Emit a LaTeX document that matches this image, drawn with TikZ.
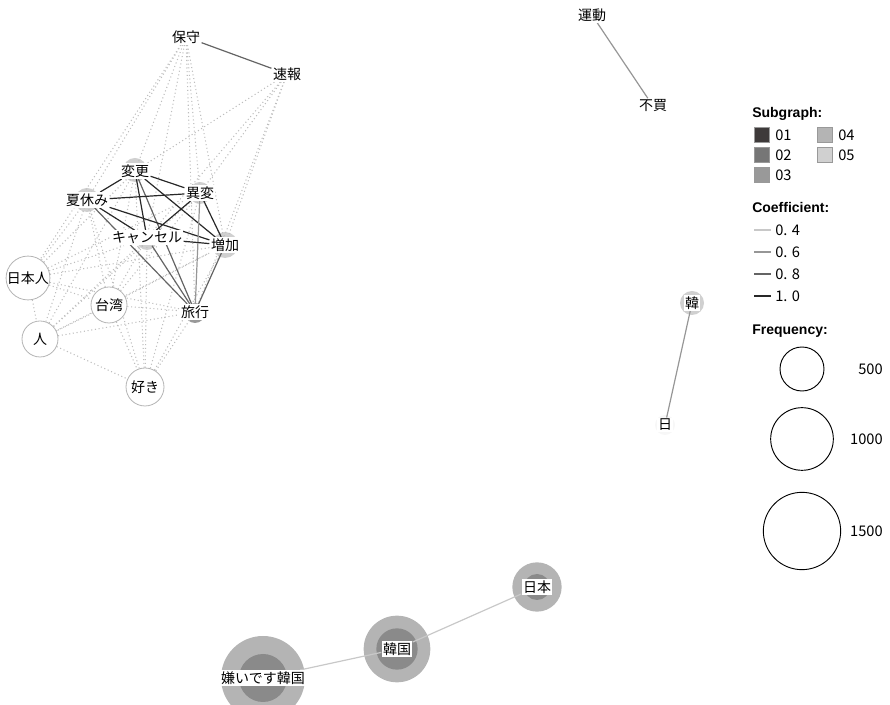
\documentclass[tikz,border=0pt]{standalone}
\usepackage{fontspec}
\setmainfont{Noto Sans CJK JP}
\newfontfamily\legfont{Liberation Sans}
\usepackage{tikz}
\definecolor{sgA}{RGB}{62, 58, 58}
\definecolor{sgB}{RGB}{118, 118, 118}
\definecolor{sgC}{RGB}{153, 153, 153}
\definecolor{sgD}{RGB}{180, 180, 180}
\definecolor{sgE}{RGB}{208, 208, 208}
\definecolor{inner}{RGB}{138, 138, 138}
\definecolor{co4}{RGB}{200, 200, 200}
\definecolor{co6}{RGB}{150, 150, 150}
\definecolor{co8}{RGB}{100, 100, 100}
\definecolor{co10}{RGB}{40, 40, 40}
\definecolor{faint}{RGB}{190, 190, 190}
\newcommand*{\h}{27}
\newcommand*{\fs}{\fontsize{10.5}{12}\selectfont}
\pgfdeclarelayer{circles}
\pgfdeclarelayer{edges}
\pgfsetlayers{circles,edges,main}

\begin{document}
\begin{tikzpicture}[
   x=0.75pt, y=-0.75pt,
   word/.style={rectangle, fill=white, inner sep=1, text=black, font=\fs},
   bubble/.style={circle, draw=sgD, fill=white, line width=0.6, text=black,
                  inner sep=0, minimum size=\h, font=\fs},
   smallcirc/.style={circle, fill=sgE, inner sep=0, minimum size=18},
   outercirc/.style={circle, fill=sgD, inner sep=0},
   innercirc/.style={circle, fill=inner, inner sep=0},
   key/.style={rectangle, draw=sgC, line width=0.6, inner sep=0, minimum size=11},
   keytext/.style={anchor=west, inner sep=0, font=\fontsize{11}{13}\selectfont},
   head/.style={anchor=west, inner sep=0, font=\legfont\bfseries\fontsize{10.5}{12}\selectfont},
   freq/.style={circle, draw=black, line width=0.7, fill=white, inner sep=0}
  ]

  \clip (0, 0) rectangle (890, 705);

  \begin{pgfonlayer}{circles}
    \node (E0) at (135, 170) [smallcirc] {};
    \node (F0) at (200, 193) [smallcirc, minimum size=16.5] {};
    \node (G0) at (87, 200) [smallcirc] {};
    \node (H0) at (147, 240) [smallcirc, minimum size=15] {};
    \node (I0) at (225, 245) [smallcirc, minimum size=19.5] {};
    \node (L0) at (195, 313) [smallcirc, fill=sgC, minimum size=15] {};
    \node (O0) at (692, 303) [smallcirc, minimum size=18] {};
    \node (P0) at (665, 425) [smallcirc, fill=gray!6, minimum size=15] {};

    \node (Q1) at (537, 587) [outercirc, minimum size=37] {};
    \node (Q2) at (537, 587) [innercirc, minimum size=19.5] {};
    \node (R1) at (397, 649) [outercirc, minimum size=50] {};
    \node (R2) at (397, 649) [innercirc, minimum size=31] {};
    \node (S1) at (263, 678) [outercirc, minimum size=63] {};
    \node (S2) at (263, 678) [innercirc, minimum size=36] {};
  \end{pgfonlayer}

  \node (A) at (186, 37) [word] {保守};
  \node (B) at (287, 74) [word] {速報};
  \node (C) at (592, 15) [word] {運動};
  \node (D) at (653, 106) [word] {不買};

  \node (E) at (135, 171) [word] {変更};
  \node (F) at (200, 193) [word] {異変};
  \node (G) at (87, 200) [word] {夏休み};
  \node (H) at (147, 238) [word] {キャンセル};
  \node (I) at (225, 245) [word] {増加};
  \node (L) at (195, 312) [word] {旅行};

  \node (J) at (28, 278) [bubble] {日本人};
  \node (K) at (109, 305) [bubble] {台湾};
  \node (M) at (40, 339) [bubble] {人};
  \node (N) at (145, 387) [bubble, minimum size=28.5] {好き};

  \node (O) at (692, 303) [word] {韓};
  \node (P) at (665, 425) [word] {日};
  \node (Q) at (537, 587) [word] {日本};
  \node (R) at (397, 649) [word] {韓国};
  \node (S) at (263, 678) [word] {嫌いです韓国};

  \begin{pgfonlayer}{edges}
    \foreach \B/\E in {A/G, A/E, A/F, A/H, A/I, A/L, A/J,
                       B/E, B/F, B/H, B/I, B/L,
                       J/E, J/G, J/H, J/F, J/K, J/M, J/L, J/I,
                       K/G, K/E, K/H, K/F, K/I, K/L, K/M, K/N,
                       M/G, M/E, M/H, M/F, M/I, M/L, M/N,
                       N/G, N/E, N/H, N/F, N/I, N/L} {
      \draw[color=faint, dotted, line width=0.8] (\B) -- (\E);
    }
    \foreach \B/\E/\c in {E/G/co10, E/F/co10, E/H/co10, E/I/co10, E/L/co8,
                          G/F/co10, G/H/co10, G/I/co10, G/L/co8,
                          F/H/co10, F/I/co10, F/L/co6,
                          H/I/co10, H/L/co8, I/L/co8,
                          A/B/co8, C/D/co6, O/P/co6, Q/R/co4, R/S/co4} {
      \draw[color=\c, line width=0.9] (\B) -- (\E);
    }
  \end{pgfonlayer}

  % Legend
  \node (sub) at (752, 114) [head] {Subgraph:};
  \foreach \n/\x/\y/\c in {01/762/135/sgA, 02/762/155/sgB, 03/762/175/sgC,
                           04/825/135/sgD, 05/825/155/sgE} {
    \node (k\n) at (\x, \y) [key, fill=\c] {};
    \node at (\x + 13, \y) [keytext] {\n};
  }

  \node (coef) at (752, 208) [head] {Coefficient:};
  \foreach \v/\y/\c in {0. 4/230/co4, 0. 6/252/co6, 0. 8/274/co8, 1. 0/296/co10} {
    \draw[color=\c, line width=1] (754, \y) -- (771, \y);
    \node at (775, \y) [keytext] {\v};
  }

  \node (freq) at (752, 331) [head] {Frequency:};
  \node (f1) at (802, 369) [freq, minimum size=33] {};
  \node (f2) at (802, 439) [freq, minimum size=47] {};
  \node (f3) at (802, 531) [freq, minimum size=58] {};
  \node at (883, 369) [keytext, anchor=east] {500};
  \node at (883, 439) [keytext, anchor=east] {1000};
  \node at (883, 531) [keytext, anchor=east] {1500};

\end{tikzpicture}
\end{document}
